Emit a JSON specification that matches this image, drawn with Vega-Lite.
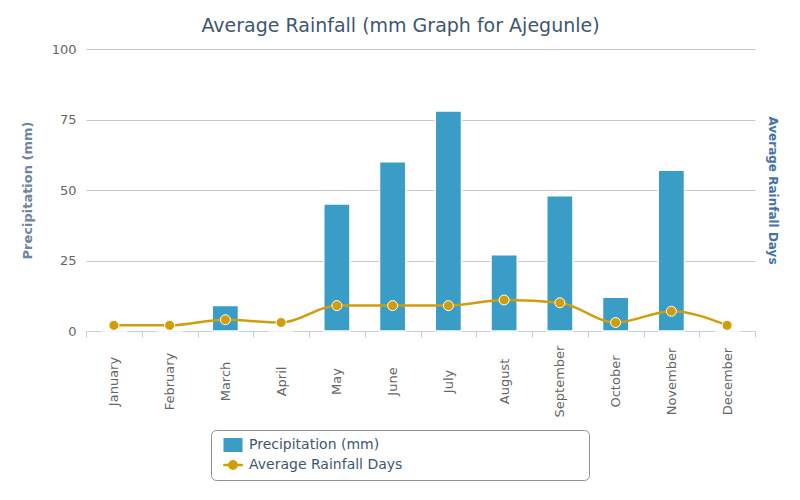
{
  "$schema": "https://vega.github.io/schema/vega-lite/v6.json",
  "width": 669,
  "height": 282,
  "autosize": {"type": "none"},
  "padding": {"left": 86, "top": 49, "right": 45, "bottom": 169},
  "background": "white",
  "title": {
    "text": "Average Rainfall (mm Graph for Ajegunle)",
    "font": "DejaVu Sans",
    "fontSize": 19,
    "fontWeight": "normal",
    "color": "#3E576F",
    "anchor": "middle",
    "dx": -20,
    "baseline": "alphabetic",
    "offset": -8
  },
  "data": {
    "values": [
      {"month": "January", "precip": 0, "days": 2},
      {"month": "February", "precip": 0, "days": 2},
      {"month": "March", "precip": 9, "days": 4},
      {"month": "April", "precip": 0, "days": 3},
      {"month": "May", "precip": 45, "days": 9},
      {"month": "June", "precip": 60, "days": 9},
      {"month": "July", "precip": 78, "days": 9},
      {"month": "August", "precip": 27, "days": 11},
      {"month": "September", "precip": 48, "days": 10},
      {"month": "October", "precip": 12, "days": 3},
      {"month": "November", "precip": 57, "days": 7},
      {"month": "December", "precip": 0, "days": 2}
    ]
  },
  "encoding": {
    "x": {
      "field": "month",
      "type": "nominal",
      "sort": null,
      "scale": {"paddingInner": 0, "paddingOuter": 0},
      "axis": {
        "title": null,
        "labelAngle": -90,
        "labelAlign": "center",
        "labelBaseline": "middle",
        "labelPadding": 44,
        "labelOverlap": false,
        "labelFont": "DejaVu Sans",
        "labelFontSize": 13,
        "labelColor": "#666666",
        "tickSize": 6,
        "tickColor": "#C0D0E0",
        "domainColor": "#C0D0E0",
        "tickBand": "extent",
        "grid": false
      }
    }
  },
  "layer": [
    {
      "mark": {"type": "bar", "width": {"band": 0.47}, "stroke": "white", "strokeWidth": 1.5},
      "encoding": {
        "y": {
          "field": "precip",
          "type": "quantitative",
          "scale": {"domain": [0, 100], "nice": false},
          "axis": {
            "values": [0, 25, 50, 75, 100],
            "title": "Precipitation (mm)",
            "titleFont": "DejaVu Sans",
            "titleFontSize": 13,
            "titleFontWeight": "bold",
            "titleColor": "#6D869F",
            "titlePadding": 17,
            "labelFont": "DejaVu Sans",
            "labelFontSize": 13,
            "labelColor": "#666666",
            "labelPadding": 10,
            "ticks": false,
            "domain": false,
            "grid": true,
            "gridColor": "#C8C8C8"
          }
        },
        "color": {
          "datum": "Precipitation (mm)",
          "type": "nominal",
          "scale": {"domain": ["Precipitation (mm)", "Average Rainfall Days"], "range": ["#3A9DC5", "#D19E0B"]},
          "legend": {
            "title": null,
            "orient": "none",
            "legendX": 125,
            "legendY": 381,
            "direction": "vertical",
            "padding": 8,
            "strokeColor": "#909090",
            "cornerRadius": 5,
            "fillColor": "white",
            "labelFont": "DejaVu Sans",
            "labelFontSize": 14,
            "labelColor": "#3E576F",
            "labelLimit": 400,
            "symbolSize": 196,
            "symbolOffset": 7,
            "labelOffset": 9,
            "rowPadding": 6,
            "encode": {
              "symbols": {
                "update": {
                  "shape": {"signal": "datum.value === 'Precipitation (mm)' ? 'M-1.36,-1H1.36V1H-1.36Z M49.6,0' : 'M-1.4,-0.18H1.4V0.18H-1.4Z M0.7,0C0.7,0.3866 0.3866,0.7 0,0.7C-0.3866,0.7 -0.7,0.3866 -0.7,0C-0.7,-0.3866 -0.3866,-0.7 0,-0.7C0.3866,-0.7 0.7,-0.3866 0.7,0Z M49.6,0'"},
                  "fill": {"signal": "scale('color', datum.value)"},
                  "stroke": {"value": "transparent"},
                  "strokeWidth": {"value": 0},
                  "opacity": {"value": 1}
                }
              }
            }
          }
        }
      }
    },
    {
      "encoding": {
        "y": {
          "field": "days",
          "type": "quantitative",
          "scale": {"domain": [0, 100], "nice": false},
          "axis": {
            "orient": "right",
            "title": "Average Rainfall Days",
            "titleFont": "DejaVu Sans",
            "titleFontSize": 12,
            "titleFontWeight": "bold",
            "titleColor": "#4572A7",
            "titlePadding": 10,
            "labels": false,
            "ticks": false,
            "domain": false,
            "grid": false
          }
        },
        "color": {
          "datum": "Average Rainfall Days",
          "type": "nominal",
          "legend": {
            "title": null,
            "orient": "none",
            "legendX": 125,
            "legendY": 381,
            "direction": "vertical",
            "padding": 8,
            "strokeColor": "#909090",
            "cornerRadius": 5,
            "fillColor": "white",
            "labelFont": "DejaVu Sans",
            "labelFontSize": 14,
            "labelColor": "#3E576F",
            "labelLimit": 400,
            "symbolSize": 196,
            "symbolOffset": 7,
            "labelOffset": 9,
            "rowPadding": 6,
            "encode": {
              "symbols": {
                "update": {
                  "shape": {"signal": "datum.value === 'Precipitation (mm)' ? 'M-1.36,-1H1.36V1H-1.36Z M49.6,0' : 'M-1.4,-0.18H1.4V0.18H-1.4Z M0.7,0C0.7,0.3866 0.3866,0.7 0,0.7C-0.3866,0.7 -0.7,0.3866 -0.7,0C-0.7,-0.3866 -0.3866,-0.7 0,-0.7C0.3866,-0.7 0.7,-0.3866 0.7,0Z M49.6,0'"},
                  "fill": {"signal": "scale('color', datum.value)"},
                  "stroke": {"value": "transparent"},
                  "strokeWidth": {"value": 0},
                  "opacity": {"value": 1}
                }
              }
            }
          }
        }
      },
      "layer": [
        {"mark": {"type": "line", "interpolate": "monotone", "strokeWidth": 2.5}},
        {"mark": {"type": "point", "filled": true, "size": 100, "stroke": "white", "strokeWidth": 1, "opacity": 1}}
      ]
    }
  ],
  "resolve": {"scale": {"y": "independent"}},
  "config": {"view": {"stroke": null}, "font": "DejaVu Sans"}
}
